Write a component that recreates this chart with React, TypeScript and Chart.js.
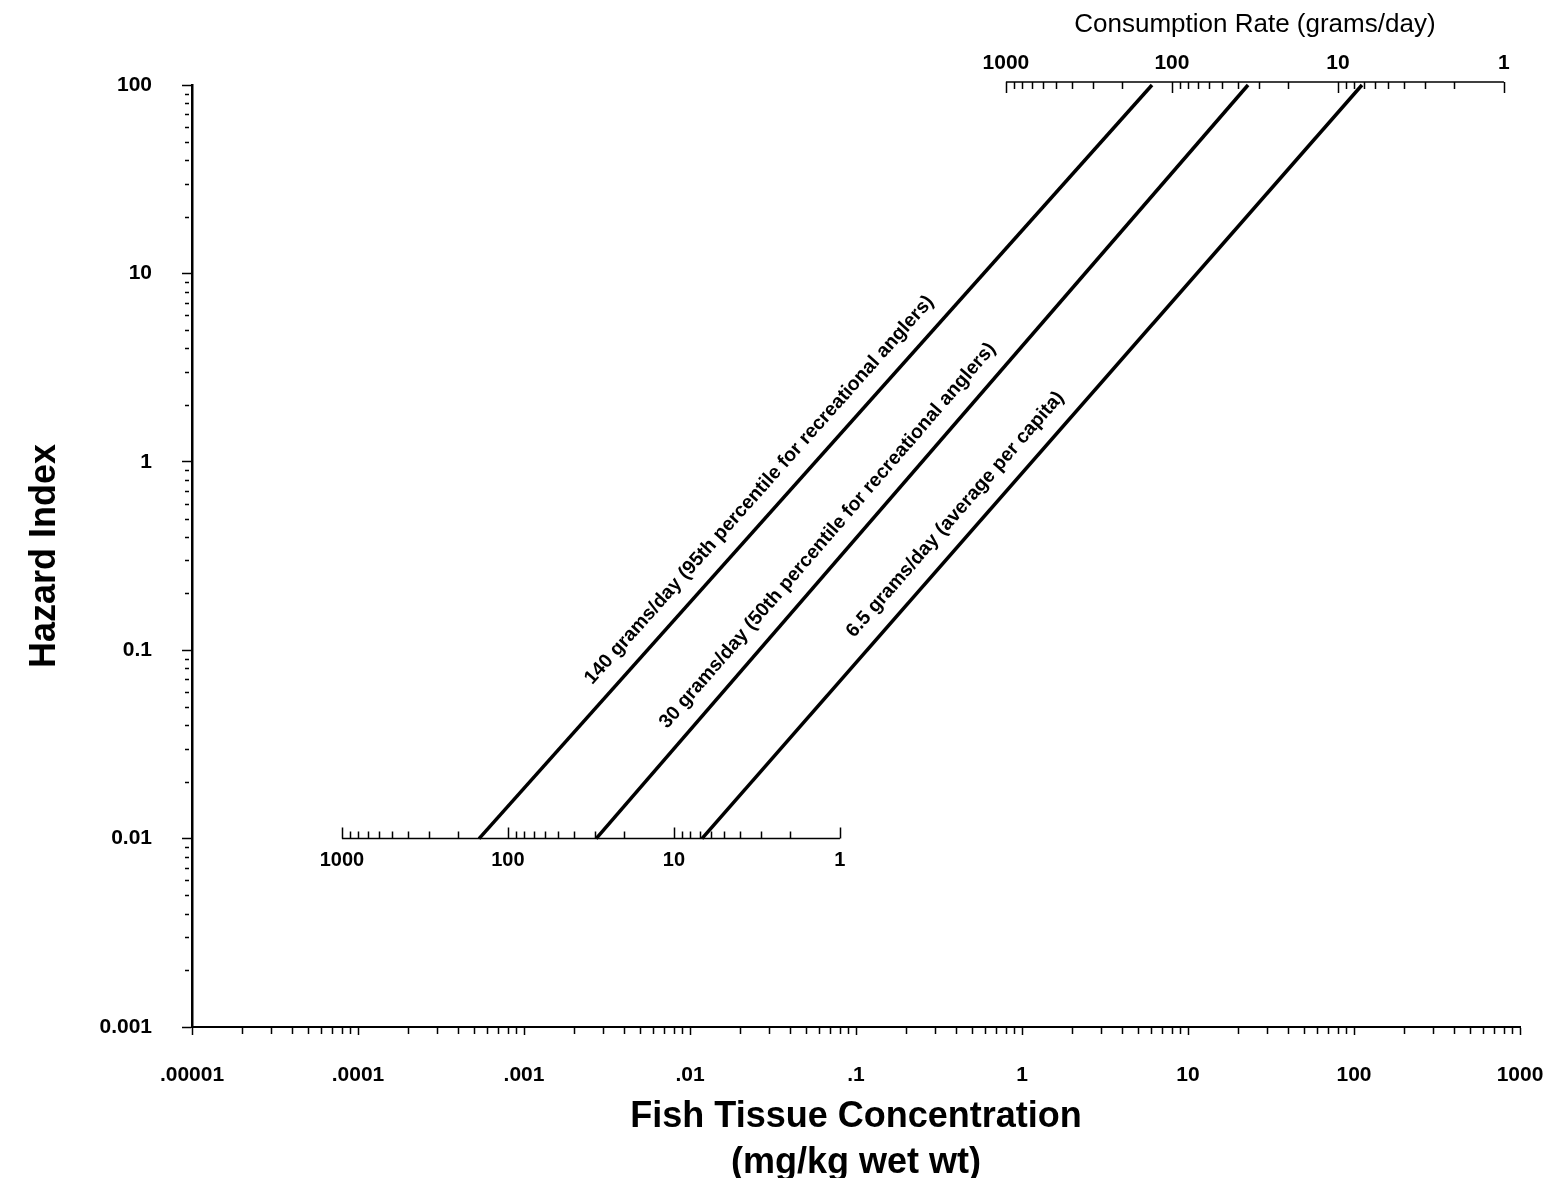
import React, { useEffect, useRef } from "react";
import { Chart, registerables } from "chart.js";

Chart.register(...registerables);

// ---------- data ----------
const X_TICKS = [0.00001, 0.0001, 0.001, 0.01, 0.1, 1, 10, 100, 1000];
const X_TICK_LABELS = [".00001", ".0001", ".001", ".01", ".1", "1", "10", "100", "1000"];
const Y_TICKS = [0.001, 0.01, 0.1, 1, 10, 100];
const Y_TICK_LABELS = ["0.001", "0.01", "0.1", "1", "10", "100"];
const MINOR_MULTIPLIERS = [2, 3, 4, 5, 6, 7, 8, 9];

const RATE_TICKS = [1000, 100, 10, 1];
const RATE_TICK_LABELS = ["1000", "100", "10", "1"];

const SERIES_NAMES = [
  "140 grams/day (95th percentile for recreational anglers)",
  "30 grams/day (50th percentile for recreational anglers)",
  "6.5 grams/day (average per capita)",
];
const CONSUMPTION_RATES = [140, 30, 6.5];
const HAZARD_ENDS = [0.01, 100];
const CONC_AT_LOW_HAZARD = [0.000536, 0.00272, 0.0118];
const CONC_AT_HIGH_HAZARD = [6.07, 23.0, 111.7];

// rate scales: concentration at which a rate of 1 g/day sits on each rate axis
const RATE_INSET_HAZARD = 0.01;
const RATE_INSET_CONC_AT_ONE = 0.08;
const RATE_TOP_HAZARD = 100;
const RATE_TOP_CONC_AT_ONE = 800;

const X_TITLE = ["Fish Tissue Concentration", "(mg/kg wet wt)"];
const Y_TITLE = "Hazard Index";
const RATE_TITLE = "Consumption Rate (grams/day)";

// ---------- style ----------
const FONT = '"Liberation Sans", Arial, Helvetica, sans-serif';
const LABEL_ALONG = [0.442, 0.382, 0.41];
const LABEL_OFFSET = 23;

export default function App() {
  const ref = useRef<HTMLCanvasElement>(null);

  useEffect(() => {
    const canvas = ref.current;
    if (!canvas) return;

    const overlay = {
      id: "overlay",
      afterDraw(chart: any) {
        const ctx = chart.ctx as CanvasRenderingContext2D;
        const xs = chart.scales.x;
        const ys = chart.scales.y;
        const area = chart.chartArea;
        ctx.save();
        ctx.strokeStyle = "#000";
        ctx.fillStyle = "#000";

        // minor ticks on main axes
        ctx.lineWidth = 1.5;
        ctx.beginPath();
        for (const d of Y_TICKS.slice(0, -1)) {
          for (const m of MINOR_MULTIPLIERS) {
            const y = Math.round(ys.getPixelForValue(d * m)) + 0.5;
            ctx.moveTo(area.left - 7, y);
            ctx.lineTo(area.left - 3, y);
          }
        }
        for (const d of X_TICKS.slice(0, -1)) {
          for (const m of MINOR_MULTIPLIERS) {
            const x = Math.round(xs.getPixelForValue(d * m)) + 0.5;
            ctx.moveTo(x, area.bottom);
            ctx.lineTo(x, area.bottom + 7);
          }
        }
        ctx.stroke();

        // rate axes
        const drawRateAxis = (
          hazard: number,
          concAtOne: number,
          yOff: number,
          dir: number,
          labelOff: number,
          fontSize: number
        ) => {
          const y = ys.getPixelForValue(hazard) + yOff;
          const xLeft = xs.getPixelForValue(concAtOne / RATE_TICKS[0]);
          const xRight = xs.getPixelForValue(concAtOne / RATE_TICKS[RATE_TICKS.length - 1]);
          ctx.lineWidth = 1.5;
          ctx.beginPath();
          ctx.moveTo(xLeft, y);
          ctx.lineTo(xRight, y);
          for (const r of RATE_TICKS) {
            const x = Math.round(xs.getPixelForValue(concAtOne / r)) + 0.5;
            ctx.moveTo(x, y);
            ctx.lineTo(x, y + dir * 11);
          }
          for (const r of RATE_TICKS.slice(1)) {
            for (const m of MINOR_MULTIPLIERS) {
              const x = Math.round(xs.getPixelForValue(concAtOne / (r * m))) + 0.5;
              ctx.moveTo(x, y);
              ctx.lineTo(x, y + dir * 7);
            }
          }
          ctx.stroke();
          ctx.font = `bold ${fontSize}px ${FONT}`;
          ctx.textAlign = "center";
          ctx.textBaseline = "middle";
          RATE_TICKS.forEach((r, i) => {
            const x = xs.getPixelForValue(concAtOne / r);
            ctx.fillText(RATE_TICK_LABELS[i], x, y + labelOff);
          });
          return { y, xLeft, xRight };
        };
        drawRateAxis(RATE_INSET_HAZARD, RATE_INSET_CONC_AT_ONE, 0, -1, 22, 20);
        const top = drawRateAxis(RATE_TOP_HAZARD, RATE_TOP_CONC_AT_ONE, -3, 1, -19, 21);
        ctx.font = `26px ${FONT}`;
        ctx.textAlign = "center";
        ctx.textBaseline = "middle";
        ctx.fillText(RATE_TITLE, (top.xLeft + top.xRight) / 2, top.y - 57);

        // line labels
        ctx.font = `bold 19.5px ${FONT}`;
        SERIES_NAMES.forEach((name, i) => {
          const x0 = xs.getPixelForValue(CONC_AT_LOW_HAZARD[i]);
          const y0 = ys.getPixelForValue(HAZARD_ENDS[0]);
          const x1 = xs.getPixelForValue(CONC_AT_HIGH_HAZARD[i]);
          const y1 = ys.getPixelForValue(HAZARD_ENDS[1]);
          const dx = x1 - x0;
          const dy = y1 - y0;
          const len = Math.hypot(dx, dy);
          const nx = dy / len;
          const ny = -dx / len;
          const t = LABEL_ALONG[i];
          const cx = x0 + dx * t + nx * LABEL_OFFSET;
          const cy = y0 + dy * t + ny * LABEL_OFFSET;
          ctx.save();
          ctx.translate(cx, cy);
          ctx.rotate(Math.atan2(dy, dx));
          ctx.textAlign = "center";
          ctx.textBaseline = "middle";
          ctx.fillText(name, 0, 0);
          ctx.restore();
        });
        ctx.restore();
      },
    };

    const datasets = SERIES_NAMES.map((name, i) => ({
      label: `${CONSUMPTION_RATES[i]} grams/day`,
      data: [
        { x: CONC_AT_LOW_HAZARD[i], y: HAZARD_ENDS[0] },
        { x: CONC_AT_HIGH_HAZARD[i], y: HAZARD_ENDS[1] },
      ],
      showLine: true,
      borderColor: "#000",
      backgroundColor: "#000",
      borderWidth: 3.5,
      pointRadius: 0,
      pointHoverRadius: 0,
      clip: false as any,
    }));

    const chart = new Chart(canvas, {
      type: "scatter",
      data: { datasets },
      options: {
        animation: false,
        responsive: true,
        maintainAspectRatio: false,
        layout: { padding: { top: 85, right: 34, left: 0, bottom: 0 } },
        plugins: { legend: { display: false }, tooltip: { enabled: false } },
        scales: {
          x: {
            type: "logarithmic",
            min: X_TICKS[0],
            max: X_TICKS[X_TICKS.length - 1],
            afterBuildTicks: (s: any) => {
              s.ticks = X_TICKS.map((v) => ({ value: v }));
            },
            afterFit: (s: any) => {
              s.height = 151;
            },
            ticks: {
              autoSkip: false,
              maxRotation: 0,
              minRotation: 0,
              padding: 4,
              color: "#000",
              font: { family: FONT, size: 21, weight: "bold", lineHeight: 3.43 },
              callback: (_v: any, i: number) => X_TICK_LABELS[i],
            },
            grid: {
              display: true,
              drawOnChartArea: false,
              drawTicks: true,
              tickLength: 8,
              tickColor: "#000",
              tickWidth: 1.5,
            },
            border: { display: true, color: "#000", width: 2 },
            title: {
              display: true,
              text: X_TITLE,
              color: "#000",
              font: { family: FONT, size: 36, weight: "bold", lineHeight: 1.28 },
              padding: { top: 0, bottom: -8 },
            },
          },
          y: {
            type: "logarithmic",
            min: Y_TICKS[0],
            max: Y_TICKS[Y_TICKS.length - 1],
            afterBuildTicks: (s: any) => {
              s.ticks = Y_TICKS.map((v) => ({ value: v }));
            },
            afterFit: (s: any) => {
              s.width = 192;
            },
            ticks: {
              autoSkip: false,
              padding: 30,
              color: "#000",
              font: { family: FONT, size: 21, weight: "bold" },
              callback: (_v: any, i: number) => Y_TICK_LABELS[i],
            },
            grid: {
              display: true,
              drawOnChartArea: false,
              drawTicks: true,
              tickLength: 10,
              tickColor: "#000",
              tickWidth: 1.5,
            },
            border: { display: true, color: "#000", width: 2.5 },
            title: {
              display: true,
              text: Y_TITLE,
              color: "#000",
              font: { family: FONT, size: 36, weight: "bold" },
              padding: { top: 23, bottom: 0 },
            },
          },
        },
      } as any,
      plugins: [overlay],
    });

    return () => chart.destroy();
  }, []);

  return (
    <div style={{ position: "absolute", left: 0, top: 0, width: "1554px", height: "1178px" }}>
      <canvas ref={ref} />
    </div>
  );
}
